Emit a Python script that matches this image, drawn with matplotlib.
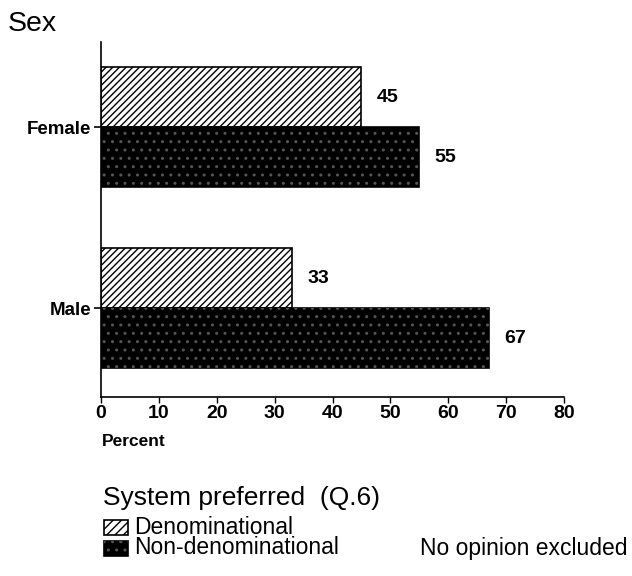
import matplotlib
matplotlib.use("Agg")
import matplotlib.pyplot as plt
from matplotlib.patches import Rectangle

plt.rcParams['font.family'] = ['Liberation Sans', 'DejaVu Sans']
plt.rcParams['hatch.linewidth'] = 1.0

categories = ["Female", "Male"]
denominational = [45, 33]
non_denominational = [55, 67]
x_ticks = [0, 10, 20, 30, 40, 50, 60, 70, 80]
series_names = ["Denominational", "Non-denominational"]

W, H = 632, 576
fig = plt.figure(figsize=(W / 100, H / 100), dpi=100)
ax = fig.add_axes([101 / W, 1 - 397 / H, (564 - 101) / W, (397 - 42) / H])

ypos = [1, 0]
h = 0.33
den_y = [y + h / 2 for y in ypos]
non_y = [y - h / 2 for y in ypos]

speckle = '#555555'

ax.barh(den_y, denominational, height=h, facecolor='white', edgecolor='black',
        hatch='/////', linewidth=1.2)
ax.barh(non_y, non_denominational, height=h, facecolor='black', edgecolor='black',
        linewidth=1.2)
ax.barh(non_y, non_denominational, height=h, fill=False, edgecolor=speckle,
        hatch='..', linewidth=0)

for y, v in zip(den_y, denominational):
    ax.text(v + 2.6, y, f"{v}", va='center', ha='left', fontsize=14, fontweight='bold')
for y, v in zip(non_y, non_denominational):
    ax.text(v + 2.6, y, f"{v}", va='center', ha='left', fontsize=14, fontweight='bold')

ax.set_xlim(0, 80)
ax.set_ylim(-0.49, 1.47)
ax.set_yticks(ypos)
ax.set_yticklabels(categories, fontsize=13.5, fontweight='bold')
ax.set_xticks(x_ticks)
ax.set_xticklabels([str(t) for t in x_ticks], fontsize=14, fontweight='bold')
ax.tick_params(axis='y', length=5, width=1.2, direction='out', pad=2)
ax.tick_params(axis='x', length=4, width=1.0, direction='out', pad=2)
for s in ('top', 'right'):
    ax.spines[s].set_visible(False)
ax.spines['left'].set_linewidth(1.2)
ax.spines['bottom'].set_linewidth(1.2)

fig.text(102 / W, 1 - 442 / H, "Percent", fontsize=12.5, fontweight='bold', va='center')
fig.text(8 / W, 1 - 24 / H, "Sex", fontsize=20.5, va='center')

fig.text(103 / W, 1 - 498 / H, "System preferred  (Q.6)", fontsize=19, va='center')

# legend swatches
sw, sh = 24 / W, 15 / H
fig.add_artist(Rectangle((104 / W, 1 - 535 / H), sw, sh, transform=fig.transFigure,
                         facecolor='white', edgecolor='black', hatch='////', linewidth=1.2))
fig.add_artist(Rectangle((104 / W, 1 - 556 / H), sw, sh, transform=fig.transFigure,
                         facecolor='black', edgecolor='black', linewidth=1.2))
fig.add_artist(Rectangle((104 / W, 1 - 556 / H), sw, sh, transform=fig.transFigure,
                         fill=False, edgecolor=speckle, hatch='..', linewidth=0))
fig.text(134 / W, 1 - 527 / H, series_names[0], fontsize=16.5, va='center')
fig.text(134 / W, 1 - 548 / H, series_names[1], fontsize=16.5, va='center')
fig.text(628 / W, 1 - 548 / H, "No opinion excluded", fontsize=16.5, va='center', ha='right')

fig.savefig("out.png", dpi=100)
